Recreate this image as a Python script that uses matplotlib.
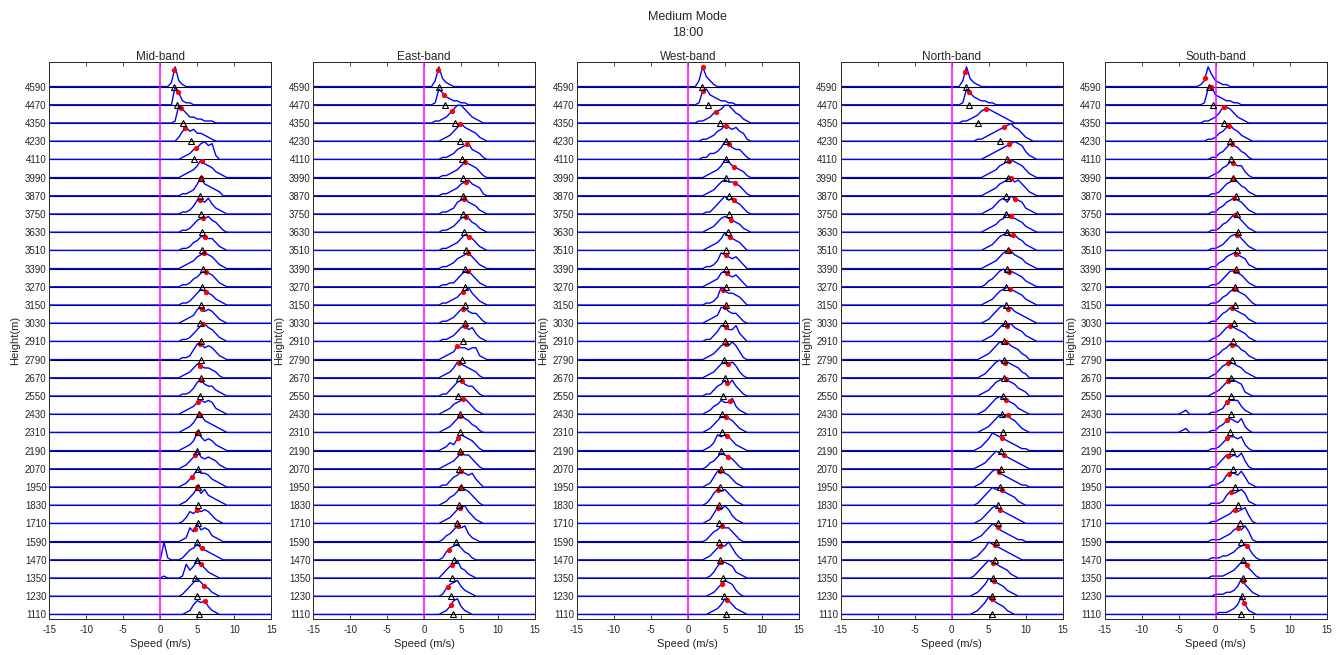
import numpy as np
import matplotlib
matplotlib.use('Agg')
import matplotlib.pyplot as plt

plt.rcParams['font.family'] = ['Liberation Sans', 'DejaVu Sans']
plt.rcParams['axes.unicode_minus'] = False

# rows of the profile stack, top row first
heights = list(range(4590, 1109, -120))
step = 0.5      # m/s between curve samples
unit = 13       # one digit of curve height in metres (rows are 120 m apart)

# each row: curve heights (hex digits) sampled every 0.5 m/s from the band's start speed
mid_start = 0.0
mid_rows = [
    "0002a31", "000096211", "000019753322111", "000002575644321", "0000001235689782",
    "000000123469765321", "000000112369654320", "000000112477685321", "000000112467786531",
    "000000112457766421", "000000123467876421", "000000112457876421", "000000112468765321",
    "000000123478676421", "000000112468976421", "000000112588676421", "000000123576554310",
    "000000112478655321", "000000123467676321", "000000123589654321", "000000123597565321",
    "000000124696565421", "000000124697764321", "000000124696854321", "000000136576764210",
    "000000127596763210", "091000135686543210", "010000174697532100", "00000013579754210",
    "0000000125767421",
]
mid_mean = [1.9, 2.2, 3.0, 4.2, 4.6, 5.5, 5.4, 5.5, 5.6, 5.7, 5.8, 5.7, 5.5, 5.3, 5.5,
            5.5, 5.5, 5.3, 5.2, 5.1, 5.0, 5.1, 5.1, 5.1, 5.1, 4.9, 4.9, 4.7, 4.9, 5.2]
mid_peak = [1.9, 2.4, 2.8, 3.4, 4.8, 5.6, 5.5, 5.4, 5.8, 6.0, 5.9, 6.2, 6.2, 5.7, 5.8,
            5.4, 5.4, 5.5, 5.1, 5.3, 5.0, 4.7, 4.3, 5.0, 5.0, 4.7, 5.6, 5.5, 5.9, 6.0]

east_start = 0.0
east_rows = [
    "0003a421", "000186432211", "0001123579975321", "00000123579765421", "00000112356785431",
    "00000112346876531", "00000112346786541", "00000112367865421", "00000112357875421",
    "00000112346876421", "00000112356786421", "00000112246886421", "00000112346796421",
    "00000112357865531", "00000112357867421", "00000123476656621", "0000012358765431",
    "0000011357865531", "0000012356786421", "0000012357976431", "0000012436876531",
    "0000012346877531", "0000011356876742", "0000012457987531", "0000012357896421",
    "000001346878421", "00000146786431", "00000246795421", "00000146785321", "0000012478421",
]
east_mean = [2.0, 2.8, 4.2, 4.8, 5.1, 5.3, 5.2, 5.3, 5.4, 5.6, 5.5, 5.5, 5.5, 5.5, 5.2,
             5.1, 4.7, 4.6, 4.8, 4.9, 4.8, 4.7, 5.0, 4.7, 4.5, 4.3, 4.0, 3.8, 3.7, 3.9]
east_peak = [1.9, 2.7, 3.8, 4.9, 5.8, 5.5, 5.6, 5.4, 5.6, 6.1, 5.9, 5.9, 5.3, 5.2, 5.5,
             4.5, 4.7, 5.1, 5.3, 4.8, 4.6, 5.0, 5.0, 4.9, 4.9, 4.6, 3.3, 3.8, 3.2, 3.6]

west_start = 0.0
west_rows = [
    "0003a531", "0001785432211", "00011235679975421", "00001123568767541", "00001133469865531",
    "00000123469865431", "00000123578776531", "00000113579786531", "00000123578765421",
    "0000012346976542", "0000011248765642", "0000012347865642", "0000011249766542",
    "0000012348865531", "0000011358866842", "0000012357879741", "0000012357878631",
    "0000011356868531", "0000012457668421", "0000012468876421", "0000012487875321",
    "000001346876531", "000001258876421", "000001368786421", "000001258797421",
    "000001356877531", "000001246779631", "0000001368876321", "000000124687631",
    "0000001235875321",
]
west_mean = [1.9, 2.7, 4.4, 5.2, 5.2, 5.2, 5.5, 5.5, 5.4, 5.2, 5.1, 5.1, 5.1, 5.0, 5.0,
             4.9, 5.0, 4.8, 4.6, 4.6, 4.5, 4.5, 4.4, 4.2, 4.2, 4.2, 4.4, 4.8, 4.9, 5.1]
west_peak = [2.0, 2.1, 3.8, 5.1, 5.5, 6.2, 6.3, 6.2, 5.8, 5.7, 5.1, 5.3, 4.8, 5.0, 5.2,
             5.1, 5.4, 5.3, 5.7, 5.2, 5.3, 5.4, 4.4, 4.1, 4.0, 4.6, 4.4, 4.5, 4.6, 5.3]

north_start = 0.0
north_rows = [
    "0003a421", "000186432211", "00011234677654321", "0000000112345678976421",
    "00000000012345678987421", "00000000012346789876421", "00000000012346789786421",
    "00000000012357869876321", "00000000012346798765321", "00000000012357897865321",
    "00000000012346899765321", "00000000013468978765321", "00000000012357898765321",
    "00000000012468978654321", "00000000012357989765321", "000000001235798976532",
    "000000001246897876532", "000000001235789876432", "000000001246898765321",
    "000000001235798976421", "000000012469876543211", "000000012357987654321",
    "000000012468976543211", "00000001357989765421", "00000001246897654321",
    "00000012357986543211", "0000001246987654321", "000000135798765421",
    "000000124698765321", "00000012469865421",
]
north_mean = [1.9, 2.3, 3.5, 6.5, 7.5, 7.6, 7.4, 7.3, 7.5, 7.6, 7.5, 7.4, 7.3, 7.2, 7.1,
              7.1, 7.0, 6.9, 6.8, 6.9, 6.7, 6.6, 6.5, 6.3, 6.2, 6.0, 5.8, 5.6, 5.5, 5.4]
north_peak = [1.8, 2.4, 4.6, 7.0, 7.8, 7.8, 8.0, 8.6, 8.0, 8.3, 7.8, 7.7, 7.9, 7.6, 7.5,
              7.4, 7.2, 7.3, 7.4, 7.6, 6.8, 7.0, 6.4, 6.8, 6.5, 6.2, 5.8, 5.6, 5.7, 5.5]

south_start = -5.0
south_rows = [
    "00000013a63211", "00000001895432211", "0000000112358875321", "00000000112457865321",
    "00000000011346876431", "00000000012356876631", "000000000112467975421",
    "000000000113467876421", "000000000112457986421", "000000000112357886421",
    "000000000113467876521", "000000000112468876421", "000000000112457876531",
    "000000000113568765421", "000000000123578765421", "000000000123568775421",
    "000000000124678765321", "00000000012357887621", "01200000011236777421",
    "01200000011346765731", "00000000011246776731", "00000000011357676841",
    "000000000112367768521", "000000000111257678621", "000000000112345767841",
    "000000000111234676851", "0000000001112234678631", "0000000001111234688531",
    "0000000000111223596421", "000000000001112359521",
]
south_mean = [-0.9, -0.3, 1.1, 1.9, 2.1, 2.3, 2.8, 2.9, 3.1, 2.9, 2.8, 2.7, 2.6, 2.5, 2.3,
              2.2, 2.1, 2.1, 2.1, 2.0, 2.2, 2.3, 2.6, 3.0, 3.3, 3.4, 3.7, 3.7, 3.6, 3.5]
south_peak = [-1.4, -0.6, 1.1, 1.8, 2.2, 2.3, 2.4, 2.5, 2.6, 2.9, 2.8, 2.6, 2.5, 2.2, 2.0,
              2.2, 1.7, 1.7, 1.6, 1.6, 1.6, 1.7, 1.8, 2.1, 2.6, 3.0, 4.3, 4.2, 3.7, 3.9]

panels = [
    ('Mid-band', mid_start, mid_rows, mid_mean, mid_peak),
    ('East-band', east_start, east_rows, east_mean, east_peak),
    ('West-band', west_start, west_rows, west_mean, west_peak),
    ('North-band', north_start, north_rows, north_mean, north_peak),
    ('South-band', south_start, south_rows, south_mean, south_peak),
]

W, H = 1343, 655
fig = plt.figure(figsize=(W / 100, H / 100), dpi=100)
text_color = '#262626'

for i, (name, start, rows, mean, peak) in enumerate(panels):
    left = 49.3 + 263.8 * i
    ax = fig.add_axes([left / W, (H - 619) / H, 222 / W, (619 - 62.3) / H])

    for h in heights:
        ax.axhline(h, color='k', lw=0.8, zorder=1)

    curves = []
    for h, row in zip(heights, rows):
        amp = [int(c, 16) * unit for c in row] + [0]
        xs = start + step * np.arange(len(amp))
        x = np.concatenate([[-15], xs, [15]])
        y = h + np.concatenate([[0], amp, [0]])
        ax.plot(x, y, color='#0000ff', lw=1.0, zorder=2)
        curves.append((x, y))

    ax.axvline(0, color='#ff00ff', lw=1.1, zorder=3)

    peak_y = [np.interp(p, x, y) for p, (x, y) in zip(peak, curves)]
    ax.plot(peak, peak_y, 'o', color='#ff0000', ms=3.8, mew=0, zorder=4)
    ax.plot(mean, heights, '^', mfc='none', mec='k', ms=5, mew=0.8, zorder=5)

    ax.set_xlim(-15, 15)
    ax.set_ylim(1080, 4750)
    ax.set_xticks(range(-15, 16, 5))
    ax.set_yticks(heights[::-1])
    ax.tick_params(direction='in', length=3, width=0.6, labelsize=7, colors=text_color,
                   top=True, right=True, pad=2)
    ax.tick_params(axis='x', pad=4)
    for s in ax.spines.values():
        s.set_color(text_color)
        s.set_linewidth(0.7)

    ax.set_title(name, fontsize=8.5, pad=1.5, color=text_color)
    ax.set_xlabel('Speed (m/s)', fontsize=8, color=text_color)
    ax.xaxis.set_label_coords(0.5, -0.036)
    ax.set_ylabel('Height(m)', fontsize=8, color=text_color)
    ax.yaxis.set_label_coords(-0.13, 0.5)

    if i == 2:
        cx = (left + 111) / W
        fig.text(cx, 1 - 16.5 / H, 'Medium Mode', ha='center', va='center',
                 fontsize=9, color=text_color)
        fig.text(cx, 1 - 33.5 / H, '18:00', ha='center', va='center',
                 fontsize=9, color=text_color)

fig.savefig('out.png', dpi=100)
